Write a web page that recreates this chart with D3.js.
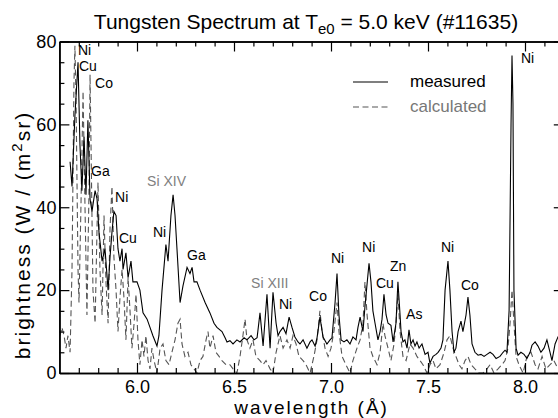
<!DOCTYPE html>
<html>
<head>
<meta charset="utf-8">
<script src="https://cdn.jsdelivr.net/npm/d3@7"></script>
<style>
  body { margin: 0; background: #fff; }
  svg { display: block; font-family: "Liberation Sans", Arial, Helvetica, sans-serif; }
</style>
</head>
<body>
<div id="chart"></div>
<script>
// Tungsten spectrum: measured vs calculated

// measured spectrum [wavelength (Å), brightness]
const measured = [
  [5.655,51],[5.665,45],[5.680,62],[5.696,75],[5.706,55],[5.716,44],[5.727,57],[5.737,43],[5.747,61],[5.758,42],
  [5.768,39],[5.784,44],[5.794,42],[5.804,34],[5.820,27],[5.835,30],[5.851,20],[5.861,28],[5.871,34],[5.881,39],
  [5.892,38],[5.902,30],[5.912,27],[5.923,30],[5.928,25],[5.943,29],[5.954,23],[5.969,27],[5.979,22],[6.000,22],
  [6.015,20],[6.031,14.5],[6.052,13],[6.067,11],[6.082,9],[6.103,6.5],[6.113,9],[6.129,20],[6.149,31],[6.160,27],
  [6.175,38],[6.186,43],[6.196,38],[6.206,30],[6.222,17],[6.237,21],[6.258,25.5],[6.273,24],[6.284,25.5],[6.294,22],
  [6.309,22],[6.325,20],[6.351,17],[6.376,14.5],[6.397,12],[6.412,11],[6.438,10],[6.454,8.5],[6.464,7.5],[6.479,7.8],
  [6.495,7],[6.515,8],[6.531,7.5],[6.552,8.5],[6.567,8],[6.588,9],[6.603,8],[6.619,8.5],[6.634,14.5],[6.650,6.5],
  [6.670,19],[6.686,6],[6.701,19.5],[6.717,12],[6.727,9],[6.737,10],[6.753,11],[6.768,9.5],[6.784,13.5],[6.799,11],
  [6.814,8.7],[6.830,7.5],[6.840,7],[6.856,8],[6.876,6],[6.892,7.5],[6.902,8],[6.918,6.5],[6.928,8.5],[6.943,13.5],
  [6.959,8.7],[6.979,7],[6.995,8],[7.005,8.5],[7.021,17],[7.031,24],[7.041,14],[7.052,8],[7.067,7.5],[7.082,8],
  [7.098,7],[7.113,8.7],[7.129,8],[7.139,11],[7.150,13.5],[7.165,10],[7.175,16],[7.186,21.5],[7.196,26.5],[7.206,22],
  [7.216,15],[7.227,12],[7.242,8],[7.253,10],[7.263,13],[7.273,19],[7.284,14],[7.294,12],[7.309,11.5],[7.320,7.5],
  [7.335,12],[7.345,22],[7.356,14],[7.361,10],[7.371,7.5],[7.381,8],[7.392,6],[7.402,10.4],[7.412,7],[7.423,8],
  [7.433,6.5],[7.443,7.5],[7.454,6],[7.469,7],[7.485,4.5],[7.500,5],[7.510,2.4],[7.526,4],[7.541,4.5],[7.552,5],
  [7.567,6],[7.577,8],[7.588,20],[7.603,27],[7.613,20],[7.624,10],[7.634,5],[7.644,6],[7.655,10],[7.670,12.5],
  [7.680,10],[7.696,14],[7.706,18.3],[7.716,14],[7.727,7],[7.742,5],[7.758,4.3],[7.773,4.5],[7.789,4],[7.804,4.5],
  [7.820,5],[7.835,4.5],[7.851,3.5],[7.871,4],[7.887,5],[7.897,5.5],[7.907,5],[7.918,15],[7.928,60],[7.933,76.6],
  [7.938,65],[7.943,20],[7.954,6],[7.964,4.3],[7.979,5],[7.995,4.5],[8.010,3.5],[8.026,5],[8.036,6.7],[8.052,7.5],
  [8.067,6.5],[8.082,5],[8.098,6],[8.113,8],[8.129,5],[8.139,3],[8.155,7],[8.170,8.7],[8.191,10]
];

// calculated spectrum [wavelength (Å), brightness]
const calculated = [
  [5.603,9],[5.613,11],[5.624,9],[5.634,6],[5.644,9],[5.655,5],[5.665,25],[5.675,70],[5.680,79],[5.686,65],
  [5.696,25],[5.701,17],[5.711,40],[5.722,68],[5.732,40],[5.742,14],[5.753,45],[5.758,72],[5.763,55],[5.773,20],
  [5.784,12],[5.794,35],[5.799,46],[5.809,25],[5.820,14],[5.830,38],[5.840,22],[5.851,12],[5.861,35],[5.871,45],
  [5.881,28],[5.892,20],[5.902,10],[5.912,18],[5.923,25],[5.933,18],[5.943,8],[5.954,23],[5.964,15],[5.974,6],
  [5.985,12],[5.995,19],[6.005,8],[6.015,2],[6.026,8],[6.036,4],[6.046,9],[6.057,3],[6.067,1],[6.077,6],
  [6.088,3],[6.103,0],[6.119,6],[6.134,7],[6.149,3],[6.165,2],[6.180,5],[6.196,8],[6.211,12],[6.222,13],
  [6.232,7],[6.247,4],[6.263,5],[6.278,2],[6.294,1],[6.309,0],[6.325,3],[6.340,4],[6.356,8],[6.366,10],
  [6.376,6],[6.392,9],[6.407,5],[6.423,4],[6.438,3],[6.459,2],[6.479,2],[6.495,1],[6.515,0],[6.531,4],
  [6.546,9],[6.557,13],[6.567,8],[6.582,6],[6.598,8],[6.613,4],[6.634,3],[6.650,2],[6.665,3],[6.686,1],
  [6.701,0],[6.717,5],[6.737,9],[6.753,6],[6.773,8],[6.789,6],[6.804,9],[6.820,7],[6.835,4],[6.856,3],
  [6.871,2],[6.892,0],[6.912,4],[6.928,8],[6.943,15],[6.954,10],[6.969,6],[6.985,4],[7.000,6],[7.015,10],
  [7.031,17],[7.041,10],[7.057,4],[7.077,2],[7.098,0],[7.113,3],[7.134,6],[7.150,8],[7.165,12],[7.175,22],
  [7.186,14],[7.201,6],[7.216,4],[7.237,2],[7.253,5],[7.268,12],[7.278,9],[7.294,6],[7.309,3],[7.325,7],
  [7.335,12],[7.345,19],[7.356,10],[7.371,4],[7.387,3],[7.407,7],[7.423,6],[7.443,4],[7.459,3],[7.474,2],
  [7.495,0],[7.510,2],[7.526,3],[7.541,1],[7.562,2],[7.583,5],[7.598,8],[7.613,9],[7.629,6],[7.644,4],
  [7.660,2],[7.675,1],[7.691,3],[7.706,4],[7.722,2],[7.742,1],[7.763,0],[7.784,0],[7.804,1],[7.820,2],
  [7.840,0],[7.861,1],[7.881,2],[7.897,3],[7.912,6],[7.923,12],[7.933,20],[7.943,12],[7.954,4],[7.969,2],
  [7.990,0],[8.010,4],[8.031,5],[8.052,2],[8.067,1],[8.088,4],[8.108,1],[8.129,2],[8.149,3],[8.170,1],[8.191,2]
];

// line identifications [label, wavelength, brightness, grey?]
const lineLabels = [
  ['Ni', 5.696, 76.8, 0], ['Cu', 5.701, 72.8, 0], ['Co', 5.784, 68.8, 0], ['Ga', 5.763, 47.5, 0],
  ['Si XIV', 6.052, 45.1, 1], ['Ni', 5.887, 41.3, 0], ['Cu', 5.907, 31.4, 0], ['Ni', 6.082, 32.8, 0],
  ['Ga', 6.258, 27.3, 0], ['Si XIII', 6.588, 20.5, 1], ['Ni', 6.732, 15.4, 0], ['Co', 6.887, 17.4, 0],
  ['Ni', 7.000, 26.5, 0], ['Ni', 7.160, 29.2, 0], ['Cu', 7.232, 20.5, 0], ['Zn', 7.304, 24.6, 0],
  ['As', 7.387, 13.0, 0], ['Ni', 7.567, 29.2, 0], ['Co', 7.670, 20.0, 0], ['Ni', 7.979, 74.8, 0]
];

const xMajor = [6.0, 6.5, 7.0, 7.5, 8.0];
const xMinor = d3.range(57, 82).map(i => i / 10).filter(v => Math.abs(v * 2 - Math.round(v * 2)) > 1e-6);
const yMajor = [0, 20, 40, 60, 80];
const yMinor = [5, 10, 15, 25, 30, 35, 45, 50, 55, 65, 70, 75];

const width = 558, height = 418;
const margin = { top: 41.5, left: 59.4 };
const plotW = 504.4, plotH = 331.5;

const svg = d3.select('#chart').append('svg')
  .attr('width', width)
  .attr('height', height);

const x = d3.scaleLinear().domain([5.6, 8.2]).range([0, plotW]);
const y = d3.scaleLinear().domain([0, 80]).range([plotH, 0]);

const g = svg.append('g').attr('transform', `translate(${margin.left},${margin.top})`);

g.append('clipPath').attr('id', 'clip')
  .append('rect').attr('width', plotW).attr('height', plotH);

// lines
const line = d3.line().x(d => x(d[0])).y(d => y(d[1]));

g.append('path')
  .datum(calculated)
  .attr('clip-path', 'url(#clip)')
  .attr('fill', 'none')
  .attr('stroke', '#555')
  .attr('stroke-width', 1.1)
  .attr('stroke-dasharray', '6,3.5')
  .attr('d', line);

g.append('path')
  .datum(measured)
  .attr('clip-path', 'url(#clip)')
  .attr('fill', 'none')
  .attr('stroke', '#000')
  .attr('stroke-width', 1.1)
  .attr('d', line);

// axes
function styleAxis(sel) {
  sel.select('.domain').attr('stroke', '#000').attr('stroke-width', 1.5);
  sel.selectAll('.tick line').attr('stroke', '#000').attr('stroke-width', 1.2);
  sel.selectAll('.tick text').attr('fill', '#000').style('font-size', '18px')
    .style('font-family', '"Liberation Sans", Arial, sans-serif');
}

g.append('g').attr('transform', `translate(0,${plotH})`)
  .call(d3.axisBottom(x).tickValues(xMajor).tickSize(-10).tickSizeOuter(0)
    .tickPadding(7).tickFormat(d3.format('.1f')))
  .call(styleAxis);
g.append('g').attr('transform', `translate(0,${plotH})`)
  .call(d3.axisBottom(x).tickValues(xMinor).tickSize(-5).tickSizeOuter(0).tickFormat(''))
  .call(styleAxis);
g.append('g')
  .call(d3.axisTop(x).tickValues(xMajor).tickSize(-10).tickSizeOuter(0).tickFormat(''))
  .call(styleAxis);
g.append('g')
  .call(d3.axisTop(x).tickValues(xMinor).tickSize(-5).tickSizeOuter(0).tickFormat(''))
  .call(styleAxis);

g.append('g')
  .call(d3.axisLeft(y).tickValues(yMajor).tickSize(-10).tickSizeOuter(0).tickPadding(3))
  .call(styleAxis);
g.append('g')
  .call(d3.axisLeft(y).tickValues(yMinor).tickSize(-5).tickSizeOuter(0).tickFormat(''))
  .call(styleAxis);
g.append('g').attr('transform', `translate(${plotW},0)`)
  .call(d3.axisRight(y).tickValues(yMajor).tickSize(-10).tickSizeOuter(0).tickFormat(''))
  .call(styleAxis);
g.append('g').attr('transform', `translate(${plotW},0)`)
  .call(d3.axisRight(y).tickValues(yMinor).tickSize(-5).tickSizeOuter(0).tickFormat(''))
  .call(styleAxis);

// line labels
g.selectAll('.line-label')
  .data(lineLabels)
  .enter()
  .append('text')
  .attr('class', 'line-label')
  .attr('x', d => x(d[1]))
  .attr('y', d => y(d[2]))
  .attr('fill', d => d[3] ? '#808080' : '#000')
  .style('font-size', '14px')
  .text(d => d[0]);

// legend
const legend = svg.append('g');
legend.append('line').attr('x1', 353).attr('x2', 388).attr('y1', 82).attr('y2', 82)
  .attr('stroke', '#000').attr('stroke-width', 1.1);
legend.append('text').attr('x', 410).attr('y', 87).style('font-size', '17px')
  .attr('fill', '#000').text('measured');
legend.append('line').attr('x1', 353).attr('x2', 388).attr('y1', 107).attr('y2', 107)
  .attr('stroke', '#555').attr('stroke-width', 1.1).attr('stroke-dasharray', '6,3.5');
legend.append('text').attr('x', 410).attr('y', 112).style('font-size', '17px')
  .attr('fill', '#777').text('calculated');

// title
const title = svg.append('text')
  .attr('x', 306)
  .attr('y', 29)
  .attr('text-anchor', 'middle')
  .style('font-size', '21px');
title.append('tspan').text('Tungsten Spectrum at T');
title.append('tspan').attr('dy', 5).style('font-size', '15px').text('e0');
title.append('tspan').attr('dy', -5).text(' = 5.0 keV (#11635)');

// axis titles
svg.append('text')
  .attr('x', margin.left + plotW / 2)
  .attr('y', 414)
  .attr('text-anchor', 'middle')
  .style('font-size', '19px')
  .style('letter-spacing', '2px')
  .text('wavelength (Å)');

const yTitle = svg.append('text')
  .attr('transform', 'translate(30,235) rotate(-90)')
  .attr('text-anchor', 'middle')
  .style('font-size', '21px')
  .style('letter-spacing', '2px');
yTitle.append('tspan').text('brightness (W / (m');
yTitle.append('tspan').attr('dy', -8).style('font-size', '15px').text('2');
yTitle.append('tspan').attr('dy', 8).text('sr)');
</script>
</body>
</html>
